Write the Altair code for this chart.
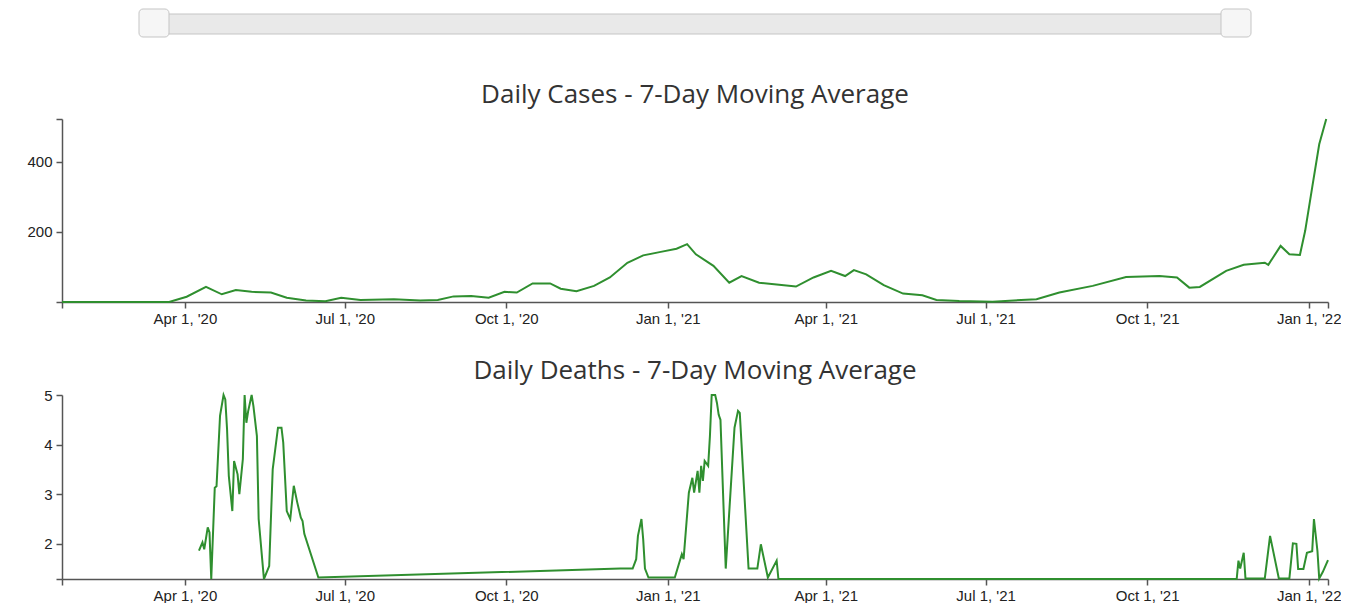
import altair as alt
import pandas as pd

# ---------------- data ----------------
CASE_DATES = [
    "2020-01-22", "2020-03-01", "2020-03-23", "2020-04-02", "2020-04-13", "2020-04-22",
    "2020-04-30", "2020-05-09", "2020-05-20", "2020-05-29", "2020-06-09", "2020-06-20",
    "2020-06-29", "2020-07-10", "2020-07-29", "2020-08-13", "2020-08-23", "2020-09-01",
    "2020-09-11", "2020-09-21", "2020-09-30", "2020-10-07", "2020-10-16", "2020-10-26",
    "2020-11-01", "2020-11-10", "2020-11-20", "2020-11-29", "2020-12-09", "2020-12-18",
    "2020-12-28", "2021-01-06", "2021-01-12", "2021-01-17", "2021-01-27", "2021-02-05",
    "2021-02-12", "2021-02-22", "2021-03-04", "2021-03-15", "2021-03-25", "2021-04-04",
    "2021-04-12", "2021-04-17", "2021-04-24", "2021-05-04", "2021-05-15", "2021-05-26",
    "2021-06-03", "2021-06-16", "2021-07-05", "2021-07-30", "2021-08-12", "2021-08-31",
    "2021-09-19", "2021-10-08", "2021-10-18", "2021-10-25", "2021-10-31", "2021-11-15",
    "2021-11-25", "2021-12-07", "2021-12-09", "2021-12-16", "2021-12-21", "2021-12-27",
    "2021-12-30", "2022-01-03", "2022-01-07", "2022-01-11",
]
CASE_VALUES = [
    0, 0, 0, 15, 43, 22,
    34, 29, 27, 12, 4, 2,
    12, 6, 8, 4, 6, 16,
    17, 12, 29, 27, 53, 53,
    38, 31, 46, 70, 112, 133,
    143, 152, 165, 136, 103, 55,
    74, 55, 50, 44, 70, 89,
    74, 91, 79, 48, 24, 19,
    6, 3, 1, 8, 27, 46,
    71, 74, 70, 41, 43, 89,
    106, 112, 106, 160, 136, 134,
    203, 327, 450, 522,
]

DEATH_DATES = [
    "2020-04-09", "2020-04-11", "2020-04-12", "2020-04-14", "2020-04-15", "2020-04-16",
    "2020-04-18", "2020-04-19", "2020-04-21", "2020-04-23", "2020-04-24", "2020-04-25",
    "2020-04-26", "2020-04-28", "2020-04-29", "2020-05-01", "2020-05-02", "2020-05-04",
    "2020-05-05", "2020-05-06", "2020-05-07", "2020-05-09", "2020-05-10", "2020-05-12",
    "2020-05-13", "2020-05-15", "2020-05-16", "2020-05-19", "2020-05-21", "2020-05-24",
    "2020-05-26", "2020-05-27", "2020-05-29", "2020-05-31", "2020-06-02", "2020-06-04",
    "2020-06-06", "2020-06-07", "2020-06-08", "2020-06-16",
    "2020-12-05", "2020-12-12", "2020-12-14", "2020-12-15", "2020-12-17", "2020-12-18",
    "2020-12-19", "2020-12-21", "2021-01-05", "2021-01-09", "2021-01-10", "2021-01-13",
    "2021-01-15", "2021-01-16", "2021-01-18", "2021-01-19", "2021-01-20", "2021-01-21",
    "2021-01-22", "2021-01-24", "2021-01-25", "2021-01-26", "2021-01-28", "2021-01-29",
    "2021-01-30", "2021-01-31", "2021-02-03", "2021-02-08", "2021-02-10", "2021-02-11",
    "2021-02-16", "2021-02-21", "2021-02-23", "2021-02-27", "2021-03-04", "2021-03-05",
    "2021-11-21", "2021-11-22", "2021-11-23", "2021-11-25", "2021-11-26", "2021-12-07",
    "2021-12-10", "2021-12-15", "2021-12-21", "2021-12-23", "2021-12-25", "2021-12-26",
    "2021-12-29", "2021-12-31", "2022-01-03", "2022-01-04", "2022-01-06", "2022-01-07",
    "2022-01-09", "2022-01-12",
]
DEATH_VALUES = [
    1.86, 2.03, 1.89, 2.33, 2.23, 1.29,
    3.13, 3.16, 4.58, 5.0, 4.91, 4.31,
    3.37, 2.66, 3.67, 3.40, 3.0, 3.71,
    5.0, 4.44, 4.67, 5.0, 4.78, 4.17,
    2.50, 1.69, 1.29, 1.55, 3.5, 4.34,
    4.34, 4.04, 2.66, 2.50, 3.17, 2.83,
    2.53, 2.46, 2.20, 1.32,
    1.50, 1.50, 1.69, 2.16, 2.50, 2.09,
    1.50, 1.32, 1.32, 1.79, 1.69, 3.03,
    3.33, 3.03, 3.47, 3.03, 3.57, 3.27,
    3.67, 3.57, 4.17, 5.0, 5.0, 4.84,
    4.6, 4.5, 1.50, 4.34, 4.68, 4.64,
    1.50, 1.50, 1.99, 1.32, 1.66, 1.29,
    1.29, 1.66, 1.5, 1.82, 1.30, 1.30,
    2.16, 1.30, 1.30, 2.01, 2.0, 1.49,
    1.49, 1.82, 1.85, 2.50, 1.85, 1.30,
    1.43, 1.67,
]

X_TICKS = ["2020-01-22", "2020-04-01", "2020-07-01", "2020-10-01", "2021-01-01",
           "2021-04-01", "2021-07-01", "2021-10-01", "2022-01-01", "2022-01-12"]
CASE_Y_TICKS = [0, 200, 400, max(CASE_VALUES)]
DEATH_Y_TICKS = [min(DEATH_VALUES), 2, 3, 4, 5]

TITLE_CASES = "Daily Cases - 7-Day Moving Average"
TITLE_DEATHS = "Daily Deaths - 7-Day Moving Average"

# ---------------- build ----------------
cases = pd.DataFrame({"date": pd.to_datetime(CASE_DATES), "value": CASE_VALUES})
deaths = pd.DataFrame({"date": pd.to_datetime(DEATH_DATES), "value": DEATH_VALUES})


def dt(s):
    y, m, d = map(int, s.split("-"))
    return alt.DateTime(year=y, month=m, date=d)


LINE_COLOR = "#2f8f2f"
AXIS_COLOR = "#555555"
LABEL_FONT = "Liberation Sans"
LABEL_SIZE = 15
INNER = "datum.index > 0 && datum.index < 1 ? format(datum.value, 'd') : ''"
NOT_FIRST = "datum.index > 0 ? format(datum.value, 'd') : ''"
INNER_DATE = "datum.index > 0 && datum.index < 1 ? datum.label : ''"

x_scale = alt.Scale(domain=[dt(X_TICKS[0]), dt(X_TICKS[-1])])
x_axis = alt.Axis(
    values=[dt(s) for s in X_TICKS], format="%b %-d, '%y", labelExpr=INNER_DATE,
    title=None, grid=False, tickSize=6, labelFont=LABEL_FONT, labelFontSize=LABEL_SIZE,
    labelColor="#222222", domainColor=AXIS_COLOR, tickColor=AXIS_COLOR,
    domainWidth=1.5, tickWidth=1.5, labelPadding=3, labelFlush=False, labelOverlap=False,
    tickCount=50,
)


def y_axis(values, expr):
    return alt.Axis(
        values=values, labelExpr=expr, title=None, grid=False, tickSize=6,
        labelFont=LABEL_FONT, labelFontSize=LABEL_SIZE, labelColor="#222222",
        domainColor=AXIS_COLOR, tickColor=AXIS_COLOR, domainWidth=1.5, tickWidth=1.5,
        labelPadding=4, minExtent=54, maxExtent=54, labelOverlap=False, labelFlush=False,
        tickCount=20, tickMinStep=0.01,
    )


def title(text):
    return alt.TitleParams(text=text, font="Open Sans", fontSize=26, fontWeight="normal",
                           color="#333333", anchor="middle", offset=4)


W = 1266

cases_chart = alt.Chart(cases).mark_line(color=LINE_COLOR, strokeWidth=2).encode(
    x=alt.X("date:T", scale=x_scale, axis=x_axis),
    y=alt.Y("value:Q", scale=alt.Scale(domain=[0, max(CASE_VALUES)], nice=False),
            axis=y_axis(CASE_Y_TICKS, INNER)),
).properties(width=W, height=183, title=title(TITLE_CASES))

deaths_chart = alt.Chart(deaths).mark_line(color=LINE_COLOR, strokeWidth=2).encode(
    x=alt.X("date:T", scale=x_scale, axis=x_axis),
    y=alt.Y("value:Q", scale=alt.Scale(domain=[min(DEATH_VALUES), max(DEATH_VALUES)],
                                       nice=False, zero=False),
            axis=y_axis(DEATH_Y_TICKS, NOT_FIRST)),
).properties(width=W, height=184, title=title(TITLE_DEATHS))

# range slider widget (decoration)
slider_parts = pd.DataFrame({"part": ["track", "left", "right"]})
track = alt.Chart(slider_parts).transform_filter("datum.part == 'track'").mark_rect(
    fill="#e9e9e9", stroke="#c5c5c5", strokeWidth=1, cornerRadius=3
).encode(x=alt.value(78), x2=alt.value(1188), y=alt.value(5), y2=alt.value(25))
h_left = alt.Chart(slider_parts).transform_filter("datum.part == 'left'").mark_rect(
    fill="#f6f6f6", stroke="#c5c5c5", strokeWidth=1, cornerRadius=4
).encode(x=alt.value(77), x2=alt.value(107), y=alt.value(0), y2=alt.value(28))
h_right = alt.Chart(slider_parts).transform_filter("datum.part == 'right'").mark_rect(
    fill="#f6f6f6", stroke="#c5c5c5", strokeWidth=1, cornerRadius=4
).encode(x=alt.value(1159), x2=alt.value(1189), y=alt.value(0), y2=alt.value(28))
slider = alt.layer(track, h_left, h_right).properties(width=W, height=17)

chart = alt.VConcatChart(
    vconcat=[slider, cases_chart, deaths_chart],
    spacing=93,
    bounds="flush",
).properties(
    padding={"left": 0, "top": 0, "right": 0, "bottom": 0},
    background="white",
).resolve_scale(y="independent").configure_view(stroke=None)

chart.save("out.html", embed_options={"renderer": "svg", "actions": False})
